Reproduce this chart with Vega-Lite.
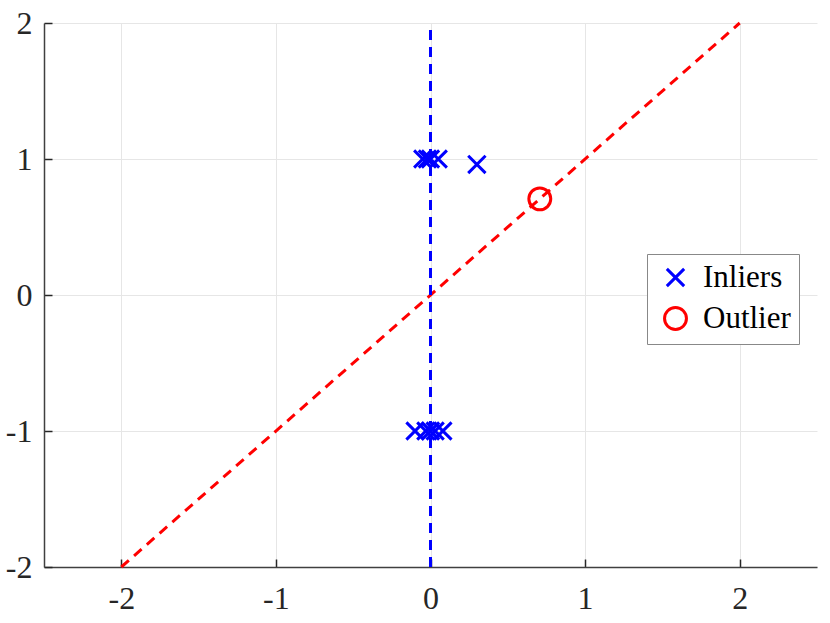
{
  "$schema": "https://vega.github.io/schema/vega-lite/v6.json",
  "width": 773,
  "height": 544,
  "autosize": {"type": "none"},
  "padding": {"left": 44, "top": 23, "right": 13, "bottom": 56},
  "background": "white",
  "config": {
    "view": {"stroke": null},
    "font": "Liberation Serif, DejaVu Serif, serif",
    "axis": {
      "grid": true,
      "gridColor": "#e6e6e6",
      "gridWidth": 1,
      "domainColor": "#404040",
      "domainWidth": 1.5,
      "tickColor": "#262626",
      "tickSize": -8,
      "tickWidth": 1.5,
      "labelFont": "Liberation Serif, DejaVu Serif, serif",
      "labelFontSize": 32,
      "labelColor": "#262626",
      "title": null
    }
  },
  "layer": [
    {
      "data": {"values": [{"x": -2, "y": -2}, {"x": 2, "y": 2}]},
      "mark": {"type": "line", "color": "#ff0000", "strokeWidth": 3, "strokeDash": [10, 7]},
      "encoding": {
        "x": {"field": "x", "type": "quantitative", "scale": {"domain": [-2.5, 2.5], "nice": false, "zero": false},
              "axis": {"values": [-2, -1, 0, 1, 2], "labelExpr": "'' + datum.value", "labelPadding": 24}},
        "y": {"field": "y", "type": "quantitative", "scale": {"domain": [-2, 2], "nice": false, "zero": false},
              "axis": {"values": [-2, -1, 0, 1, 2], "labelExpr": "'' + datum.value", "labelPadding": 20}}
      }
    },
    {
      "data": {"values": [{"x": 0, "y": -2}, {"x": 0, "y": 2}]},
      "mark": {"type": "line", "color": "#0000ff", "strokeWidth": 3, "strokeDash": [10, 7]},
      "encoding": {
        "x": {"field": "x", "type": "quantitative"},
        "y": {"field": "y", "type": "quantitative"},
        "order": {"field": "y"}
      }
    },
    {
      "data": {"values": [
        {"x": -0.05, "y": 1.0, "series": "Inliers"},
        {"x": -0.02, "y": 1.0, "series": "Inliers"},
        {"x": 0.0, "y": 1.0, "series": "Inliers"},
        {"x": 0.05, "y": 1.0, "series": "Inliers"},
        {"x": 0.3, "y": 0.96, "series": "Inliers"},
        {"x": -0.1, "y": -1.0, "series": "Inliers"},
        {"x": -0.03, "y": -1.0, "series": "Inliers"},
        {"x": 0.0, "y": -1.0, "series": "Inliers"},
        {"x": 0.03, "y": -1.0, "series": "Inliers"},
        {"x": 0.08, "y": -1.0, "series": "Inliers"},
        {"x": 0.707, "y": 0.707, "series": "Outlier"}
      ]},
      "mark": {"type": "point", "filled": false, "strokeWidth": 3, "opacity": 1},
      "encoding": {
        "x": {"field": "x", "type": "quantitative"},
        "y": {"field": "y", "type": "quantitative"},
        "color": {"field": "series", "type": "nominal",
                  "scale": {"domain": ["Inliers", "Outlier"], "range": ["#0000ff", "#ff0000"]},
                  "legend": {"orient": "none", "legendX": 603, "legendY": 231, "title": null,
                             "padding": 8, "strokeColor": "#888888", "fillColor": "white",
                             "labelFont": "Liberation Serif, DejaVu Serif, serif", "labelFontSize": 31, "labelColor": "black",
                             "symbolStrokeWidth": 3, "symbolSize": 400, "symbolOpacity": 1, "symbolOffset": 5,
                             "rowPadding": 8, "labelOffset": 12}},
        "shape": {"field": "series", "type": "nominal",
                  "scale": {"domain": ["Inliers", "Outlier"], "range": ["M-1,-1L1,1M-1,1L1,-1", "circle"]}},
        "size": {"field": "series", "type": "nominal",
                 "scale": {"domain": ["Inliers", "Outlier"], "range": [300, 480]}, "legend": null}
      }
    }
  ]
}
